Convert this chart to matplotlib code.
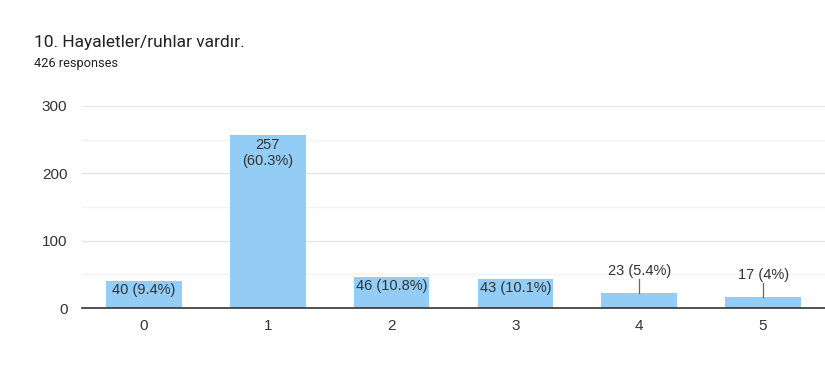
import matplotlib
matplotlib.use("Agg")
import matplotlib.pyplot as plt

categories = ["0", "1", "2", "3", "4", "5"]
counts = [40, 257, 46, 43, 23, 17]
percents = ["9.4%", "60.3%", "10.8%", "10.1%", "5.4%", "4%"]
total = 426

BAR = "#93cdf5"
TXT = "#333333"

fig = plt.figure(figsize=(8.25, 3.92), dpi=100)
ax = fig.add_axes([0.0994, 0.214, 0.9006, 0.516])

x = range(len(categories))
ax.bar(x, counts, width=0.61, color=BAR, zorder=2)

ax.set_xlim(-0.5, 5.5)
ax.set_ylim(0, 300)
ax.set_yticks([0, 100, 200, 300])
ax.set_yticks([50, 150, 250], minor=True)
ax.grid(axis="y", which="major", color="#e6e6e6", lw=1, zorder=0)
ax.grid(axis="y", which="minor", color="#f3f3f3", lw=1, zorder=0)
ax.set_xticks(list(x))
ax.set_xticklabels(categories)
for s in ["top", "right", "left"]:
    ax.spines[s].set_visible(False)
ax.spines["bottom"].set_color("#333333")
ax.spines["bottom"].set_linewidth(1.2)
ax.spines["bottom"].set_zorder(3)
ax.tick_params(axis="both", which="both", length=0, labelsize=11, labelcolor=TXT)
ax.tick_params(axis="x", pad=8)
ax.tick_params(axis="y", pad=10.5)
for lab in ax.get_xticklabels() + ax.get_yticklabels():
    lab.set_family("Liberation Sans")

for i, (c, p) in enumerate(zip(counts, percents)):
    if c > 100:
        ax.text(i, c - 4, f"{c}\n({p})", ha="center", va="top", fontsize=10.5,
                color=TXT, family="Liberation Sans", linespacing=1.25, zorder=4)
    elif c > 30:
        ax.text(i, c - 2.5, f"{c} ({p})", ha="center", va="top", fontsize=10.5,
                color=TXT, family="Liberation Sans", zorder=4)
    else:
        ax.plot([i, i], [c, c + 20], color="#666666", lw=0.9, zorder=3)
        ax.text(i, c + 21, f"{c} ({p})", ha="center", va="bottom", fontsize=10.5,
                color=TXT, family="Liberation Sans", zorder=4)

fig.text(0.041, 0.891, "10. Hayaletler/ruhlar vardır.", fontsize=12.5,
         color="#202124", family="Roboto", va="center")
fig.text(0.041, 0.839, f"{total} responses", fontsize=9.2,
         color="#202124", family="Roboto", va="center")

fig.savefig("out.png", dpi=100)
